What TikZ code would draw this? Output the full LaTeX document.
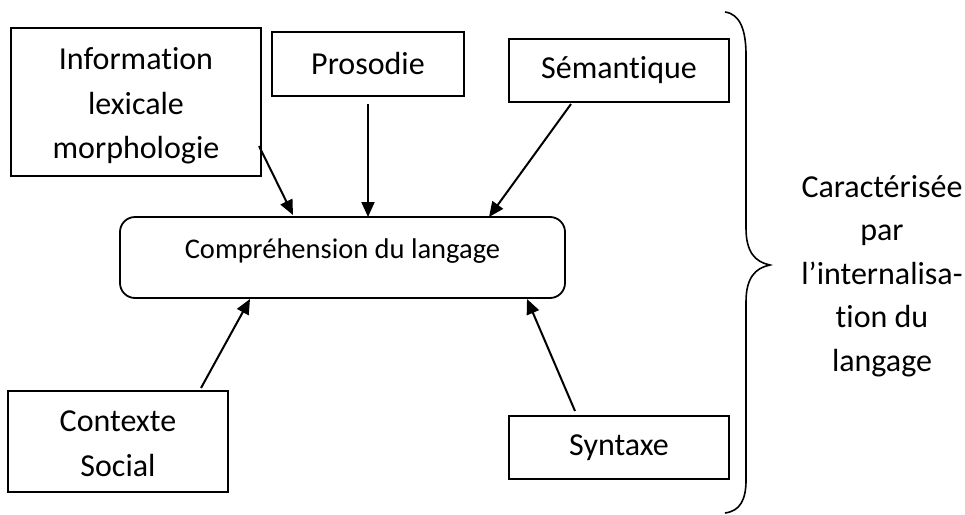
\documentclass[tikz,border=0pt]{standalone}
\usepackage{fontspec}
\setmainfont{Carlito}[Ligatures=NoCommon]
\usetikzlibrary{arrows.meta}
\begin{document}
\begin{tikzpicture}[x=1pt,y=-1pt,
  box/.style={draw, line width=1.8pt, inner sep=0pt, align=center,
    font=\fontsize{32}{44.5}\selectfont},
  conn/.style={line width=2pt, -{Triangle[length=15pt,width=13pt]}},
  brace/.style={line width=1.6pt},
  side/.style={align=center, inner sep=0pt, font=\fontsize{32}{43.5}\selectfont}
]
\useasboundingbox (0,0) rectangle (965,514);
% boxes
\node[box, minimum width=250pt, minimum height=148pt] (info) at (136,102)
  {\rule{0pt}{30pt}Information\\lexicale\\morphologie};
\node[box, minimum width=192pt, minimum height=64pt] (pros) at (368,64) {Prosodie};
\node[box, minimum width=220pt, minimum height=63pt] (sem) at (619,70.5) {Sémantique};
\node[box, rounded corners=15pt, minimum width=445pt, minimum height=81pt,
  font=\fontsize{28.5}{34}\selectfont,
  text height=20pt, text depth=19pt] (comp) at (342.5,257.5) {Compréhension du langage};
\node[box, minimum width=220pt, minimum height=101pt] (ctx) at (118,441.5)
  {\rule{0pt}{25.6pt}Contexte\\Social};
\node[box, minimum width=220pt, minimum height=63pt] (syn) at (619,447.5) {Syntaxe};
% side text
\node[side] (car) at (882,276)
  {Caractérisée\\par\\l’internalisa-\\tion du\\langage};
% connector end points
\coordinate (infoOut) at (259,146);
\coordinate (infoIn) at (293,215);
\coordinate (prosOut) at (368,104);
\coordinate (prosIn) at (368,217);
\coordinate (semOut) at (571,104);
\coordinate (semIn) at (489,217);
\coordinate (ctxOut) at (201,388);
\coordinate (ctxIn) at (250,299);
\coordinate (synOut) at (575,411);
\coordinate (synIn) at (527,299);
\draw[conn] (infoOut) -- (infoIn);
\draw[conn] (prosOut) -- (prosIn);
\draw[conn] (semOut) -- (semIn);
\draw[conn] (ctxOut) -- (ctxIn);
\draw[conn] (synOut) -- (synIn);
% brace
\draw[brace] (725,12) .. controls (740,14) and (746,30) .. (746,55)
  -- (746,228) .. controls (746,252) and (755,262) .. (770,265)
  .. controls (755,268) and (746,278) .. (746,302)
  -- (746,480) .. controls (746,500) and (740,511) .. (725,513);
\end{tikzpicture}
\end{document}
